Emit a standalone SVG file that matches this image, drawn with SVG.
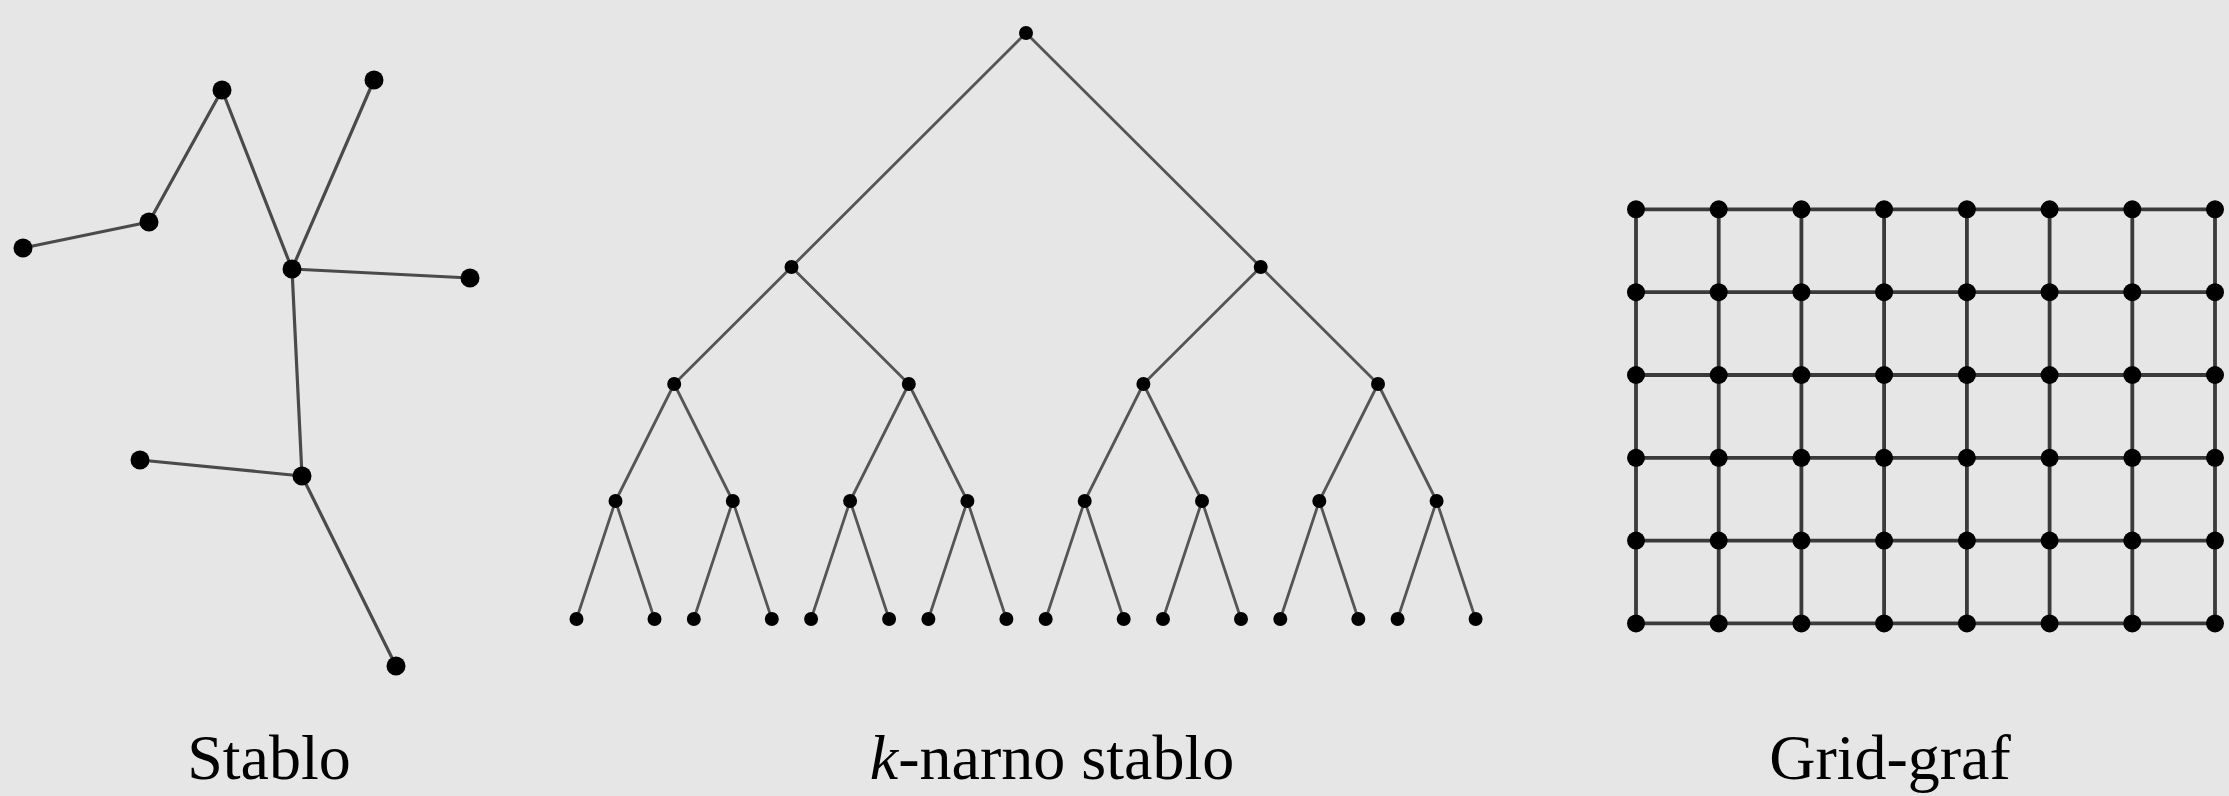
<svg xmlns="http://www.w3.org/2000/svg" width="2229" height="796" viewBox="0 0 2229 796">
<style>
.e1{stroke:#4a4a4a;stroke-width:3.2;fill:none;stroke-linecap:round}
.e2{stroke:#555;stroke-width:2.8;fill:none;stroke-linecap:round}
.e3{stroke:#3a3a3a;stroke-width:3.8;fill:none}
.n{fill:#000}
.lbl{font-family:"Liberation Serif","Times New Roman",serif;font-size:64px;fill:#000;text-anchor:middle}
</style>
<rect width="2229" height="796" fill="#e6e6e6"/>
<g id="connectors">
<g id="stablo-edges" class="e1">
<line x1="23" y1="248" x2="149" y2="222"/>
<line x1="149" y1="222" x2="222" y2="90"/>
<line x1="222" y1="90" x2="292" y2="269"/>
<line x1="374" y1="80" x2="292" y2="269"/>
<line x1="292" y1="269" x2="470" y2="278"/>
<line x1="292" y1="269" x2="302" y2="476"/>
<line x1="140" y1="460" x2="302" y2="476"/>
<line x1="302" y1="476" x2="396" y2="666"/>
</g>
<g id="tree-edges" class="e2">
<path d="M1026 33L791.5 267M1026 33L1260.7 267"/>
<path d="M791.5 267L674.2 384M791.5 267L908.8 384M1260.7 267L1143.4 384M1260.7 267L1378 384"/>
<path d="M674.2 384L615.5 501M674.2 384L732.8 501M908.8 384L850.1 501M908.8 384L967.4 501M1143.4 384L1084.7 501M1143.4 384L1202 501M1378 384L1319.3 501M1378 384L1436.6 501"/>
<path d="M615.5 501L576.5 619M615.5 501L654.5 619M732.8 501L693.8 619M732.8 501L771.8 619M850.1 501L811.1 619M850.1 501L889.1 619M967.4 501L928.4 619M967.4 501L1006.4 619M1084.7 501L1045.7 619M1084.7 501L1123.7 619M1202 501L1163 619M1202 501L1241 619M1319.3 501L1280.3 619M1319.3 501L1358.3 619M1436.6 501L1397.6 619M1436.6 501L1475.6 619"/>
</g>
<g id="grid-edges" class="e3">
<path d="M1636 209.3H2215M1636 292.2H2215M1636 375H2215M1636 457.8H2215M1636 540.6H2215M1636 623.4H2215"/>
<path d="M1636 209.3V623.4M1718.7 209.3V623.4M1801.4 209.3V623.4M1884.1 209.3V623.4M1966.9 209.3V623.4M2049.6 209.3V623.4M2132.3 209.3V623.4M2215 209.3V623.4"/>
</g>
</g>
<g id="stablo-nodes" class="n">
<circle id="s1" cx="23" cy="248" r="9.5"/>
<circle id="s2" cx="149" cy="222" r="9.5"/>
<circle id="s3" cx="222" cy="90" r="9.5"/>
<circle id="s4" cx="374" cy="80" r="9.5"/>
<circle id="s5" cx="292" cy="269" r="9.5"/>
<circle id="s6" cx="470" cy="278" r="9.5"/>
<circle id="s7" cx="140" cy="460" r="9.5"/>
<circle id="s8" cx="302" cy="476" r="9.5"/>
<circle id="s9" cx="396" cy="666" r="9.5"/>
</g>
<g id="tree-nodes" class="n">
<circle id="t0" cx="1026" cy="33" r="7"/>
<circle id="t1a" cx="791.5" cy="267" r="7"/>
<circle id="t1b" cx="1260.7" cy="267" r="7"/>
<circle id="t2a" cx="674.2" cy="384" r="7"/>
<circle id="t2b" cx="908.8" cy="384" r="7"/>
<circle id="t2c" cx="1143.4" cy="384" r="7"/>
<circle id="t2d" cx="1378" cy="384" r="7"/>
<g id="t3">
<circle cx="615.5" cy="501" r="7"/><circle cx="732.8" cy="501" r="7"/><circle cx="850.1" cy="501" r="7"/><circle cx="967.4" cy="501" r="7"/>
<circle cx="1084.7" cy="501" r="7"/><circle cx="1202" cy="501" r="7"/><circle cx="1319.3" cy="501" r="7"/><circle cx="1436.6" cy="501" r="7"/>
</g>
<g id="t4">
<circle cx="576.5" cy="619" r="7"/><circle cx="654.5" cy="619" r="7"/><circle cx="693.8" cy="619" r="7"/><circle cx="771.8" cy="619" r="7"/>
<circle cx="811.1" cy="619" r="7"/><circle cx="889.1" cy="619" r="7"/><circle cx="928.4" cy="619" r="7"/><circle cx="1006.4" cy="619" r="7"/>
<circle cx="1045.7" cy="619" r="7"/><circle cx="1123.7" cy="619" r="7"/><circle cx="1163" cy="619" r="7"/><circle cx="1241" cy="619" r="7"/>
<circle cx="1280.3" cy="619" r="7"/><circle cx="1358.3" cy="619" r="7"/><circle cx="1397.6" cy="619" r="7"/><circle cx="1475.6" cy="619" r="7"/>
</g>
</g>
<defs><circle id="gn" r="9"/></defs>
<g id="grid-nodes" class="n">
<g id="row1"><use href="#gn" x="1636" y="209.3"/><use href="#gn" x="1718.7" y="209.3"/><use href="#gn" x="1801.4" y="209.3"/><use href="#gn" x="1884.1" y="209.3"/><use href="#gn" x="1966.9" y="209.3"/><use href="#gn" x="2049.6" y="209.3"/><use href="#gn" x="2132.3" y="209.3"/><use href="#gn" x="2215" y="209.3"/></g>
<g id="row2"><use href="#gn" x="1636" y="292.2"/><use href="#gn" x="1718.7" y="292.2"/><use href="#gn" x="1801.4" y="292.2"/><use href="#gn" x="1884.1" y="292.2"/><use href="#gn" x="1966.9" y="292.2"/><use href="#gn" x="2049.6" y="292.2"/><use href="#gn" x="2132.3" y="292.2"/><use href="#gn" x="2215" y="292.2"/></g>
<g id="row3"><use href="#gn" x="1636" y="375"/><use href="#gn" x="1718.7" y="375"/><use href="#gn" x="1801.4" y="375"/><use href="#gn" x="1884.1" y="375"/><use href="#gn" x="1966.9" y="375"/><use href="#gn" x="2049.6" y="375"/><use href="#gn" x="2132.3" y="375"/><use href="#gn" x="2215" y="375"/></g>
<g id="row4"><use href="#gn" x="1636" y="457.8"/><use href="#gn" x="1718.7" y="457.8"/><use href="#gn" x="1801.4" y="457.8"/><use href="#gn" x="1884.1" y="457.8"/><use href="#gn" x="1966.9" y="457.8"/><use href="#gn" x="2049.6" y="457.8"/><use href="#gn" x="2132.3" y="457.8"/><use href="#gn" x="2215" y="457.8"/></g>
<g id="row5"><use href="#gn" x="1636" y="540.6"/><use href="#gn" x="1718.7" y="540.6"/><use href="#gn" x="1801.4" y="540.6"/><use href="#gn" x="1884.1" y="540.6"/><use href="#gn" x="1966.9" y="540.6"/><use href="#gn" x="2049.6" y="540.6"/><use href="#gn" x="2132.3" y="540.6"/><use href="#gn" x="2215" y="540.6"/></g>
<g id="row6"><use href="#gn" x="1636" y="623.4"/><use href="#gn" x="1718.7" y="623.4"/><use href="#gn" x="1801.4" y="623.4"/><use href="#gn" x="1884.1" y="623.4"/><use href="#gn" x="1966.9" y="623.4"/><use href="#gn" x="2049.6" y="623.4"/><use href="#gn" x="2132.3" y="623.4"/><use href="#gn" x="2215" y="623.4"/></g>
</g>
<g id="labels">
<text class="lbl" x="269" y="779">Stablo</text>
<text class="lbl" x="1052" y="779"><tspan font-style="italic">k</tspan>-narno stablo</text>
<text class="lbl" x="1890" y="779">Grid-graf</text>
</g>
</svg>
